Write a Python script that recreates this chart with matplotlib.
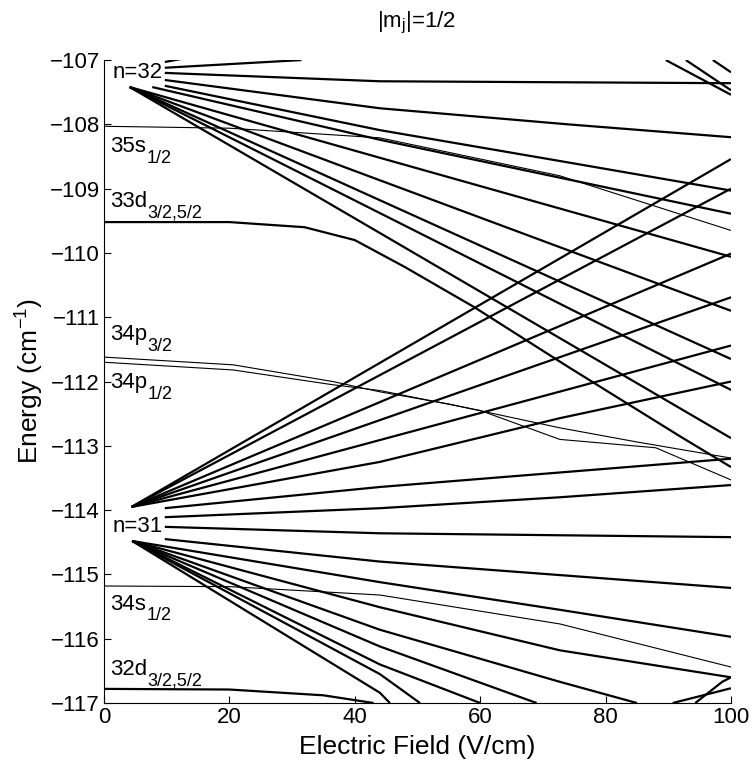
import matplotlib
matplotlib.use("Agg")
import matplotlib.pyplot as plt

plt.rcParams["font.family"] = ["Liberation Sans", "DejaVu Sans"]
plt.rcParams["mathtext.fontset"] = "custom"
plt.rcParams["mathtext.rm"] = "Liberation Sans"
plt.rcParams["mathtext.default"] = "rm"

# Stark levels, (field in V/cm, energy in cm^-1)

# n=32 manifold, upper part
t1 = [(9.7, -107.03), (12.5, -106.98)]
t2 = [(9.7, -107.12), (31.5, -107.0)]
t3 = [(9.7, -107.2), (44, -107.33), (100, -107.36)]
t4 = [(9.7, -107.31), (44, -107.75), (74, -108.0), (100, -108.2)]

# n=33 levels coming in at the top right
s1 = [(89.6, -107.0), (100, -107.54)]
s2 = [(92.8, -107.0), (100, -107.47)]
s3 = [(97.1, -107.0), (100, -107.19)]

# n=32 manifold, red shifted
r0 = [(9.7, -107.40), (44, -108.09), (72.7, -108.57), (100, -109.03)]
r1 = [(7.7, -107.42), (44, -108.24), (100, -109.39)]
r2 = [(4.1, -107.42), (44, -108.52), (100, -110.06)]
r3 = [(4.1, -107.42), (44, -108.87), (100, -110.9)]
r4 = [(4.1, -107.42), (44, -109.18), (100, -111.65)]
r5 = [(4.1, -107.42), (44, -109.38), (100, -112.13)]
r6 = [(4.1, -107.42), (44, -109.69), (100, -112.88)]
d33 = [(0, -109.52), (20, -109.52), (32, -109.6), (40, -109.8), (48, -110.22),
       (59, -110.84), (74, -111.77), (92, -112.86), (100, -113.33)]

# low-l states
s35 = [(0, -108.03), (20, -108.06), (44, -108.21), (72.7, -108.8), (100, -109.65)]
p34_32 = [(0, -111.62), (20.6, -111.74), (36.5, -112.0), (44, -112.16), (55, -112.35),
          (72.7, -112.72), (85, -112.94), (100, -113.19)]
p34_12 = [(0, -111.70), (20.6, -111.82), (36.5, -112.05), (44, -112.14), (60, -112.45),
          (72.7, -112.9), (88, -113.03), (100, -113.53)]
s34 = [(0, -115.18), (20, -115.19), (44, -115.32), (72.7, -115.77), (100, -116.44)]

# n=31 manifold, blue shifted
u1 = [(4.4, -113.95), (44, -111.71), (100, -108.54)]
u2 = [(4.4, -113.95), (44, -111.90), (100, -109.0)]
u3 = [(4.4, -113.95), (44, -112.32), (100, -110.01)]
u4 = [(4.4, -113.95), (44, -112.60), (100, -110.69)]
u5 = [(4.4, -113.95), (44, -112.91), (100, -111.44)]
u6 = [(4.4, -113.95), (44, -113.25), (72.7, -112.57), (100, -112.0)]
u7 = [(9.7, -113.97), (44, -113.64), (100, -113.2)]
u8 = [(9.7, -114.11), (44, -113.97), (72.7, -113.8), (100, -113.61)]
f31 = [(9.7, -114.26), (44, -114.36), (100, -114.42)]

# n=31 manifold, red shifted
w1 = [(9.7, -114.45), (44, -114.8), (100, -115.21)]
w2 = [(4.5, -114.48), (44, -115.12), (72.7, -115.55), (100, -115.97)]
w3 = [(4.5, -114.48), (44, -115.51), (72.7, -116.18), (100, -116.6)]
w4 = [(4.5, -114.48), (44, -115.86), (72.7, -116.67), (85, -117.0)]
w5 = [(4.5, -114.48), (44, -116.12), (69, -117.0)]
w6 = [(4.5, -114.48), (44, -116.40), (60, -117.0)]
w7 = [(4.5, -114.48), (44, -116.55), (50.4, -117.0)]
w8 = [(4.5, -114.48), (44, -116.84), (45.6, -117.0)]
d32 = [(0, -116.78), (20, -116.79), (35, -116.88), (43, -117.0)]

# n=30 levels coming in at the bottom right
b1 = [(90.7, -117.0), (100, -116.77)]
b2 = [(94.3, -117.0), (98.6, -116.67), (100, -116.6)]

thick = [t1, t2, t3, t4, s1, s2, s3, r0, r1, r2, r3, r4, r5, r6, d33,
         u1, u2, u3, u4, u5, u6, u7, u8, f31,
         w1, w2, w3, w4, w5, w6, w7, w8, d32, b1, b2]
thin = [s35, p34_32, p34_12, s34]

# state labels: (field, energy, text, subscript)
labels = [
    (1.3, -107.28, "n=32", ""),
    (1.0, -108.43, "35s", "1/2"),
    (1.0, -109.28, "33d", "3/2,5/2"),
    (1.0, -111.36, "34p", "3/2"),
    (1.0, -112.10, "34p", "1/2"),
    (1.3, -114.34, "n=31", ""),
    (1.0, -115.55, "34s", "1/2"),
    (1.0, -116.56, "32d", "3/2,5/2"),
]

fig = plt.figure(figsize=(7.54, 7.63), dpi=100)
ax = fig.add_axes([0.1379, 0.0786, 0.8316, 0.8427])

for c in thick:
    ax.plot([p[0] for p in c], [p[1] for p in c], color="black", lw=1.6,
            solid_capstyle="butt")
for c in thin:
    ax.plot([p[0] for p in c], [p[1] for p in c], color="black", lw=0.8)

for x, y, s, sub in labels:
    t = ax.text(x, y, s, fontsize=16, ha="left", va="baseline")
    if sub:
        ax.annotate(sub, xy=(1, 0), xycoords=t, xytext=(0.3, -4),
                    textcoords="offset points", fontsize=13,
                    ha="left", va="baseline")

ax.set_xlim(0, 100)
ax.set_ylim(-117, -107)
ax.set_xticks(range(0, 101, 20))
ax.set_yticks(range(-117, -106))
ax.tick_params(direction="in", length=5, width=0.8, labelsize=16, pad=3)
ax.spines["top"].set_visible(False)
ax.spines["right"].set_visible(False)

fig.text(417 / 754, 1 - 747 / 763, "Electric Field (V/cm)", fontsize=19,
         ha="center", va="center")
fig.text(30 / 754, 0.5007, "Energy (cm$^{-1}$)", fontsize=19, rotation=90,
         ha="center", va="center")
fig.text(417 / 754, 1 - 27 / 763, "|m$_j$|=1/2", fontsize=16, ha="center",
         va="baseline")

fig.savefig("out.png", dpi=100)
